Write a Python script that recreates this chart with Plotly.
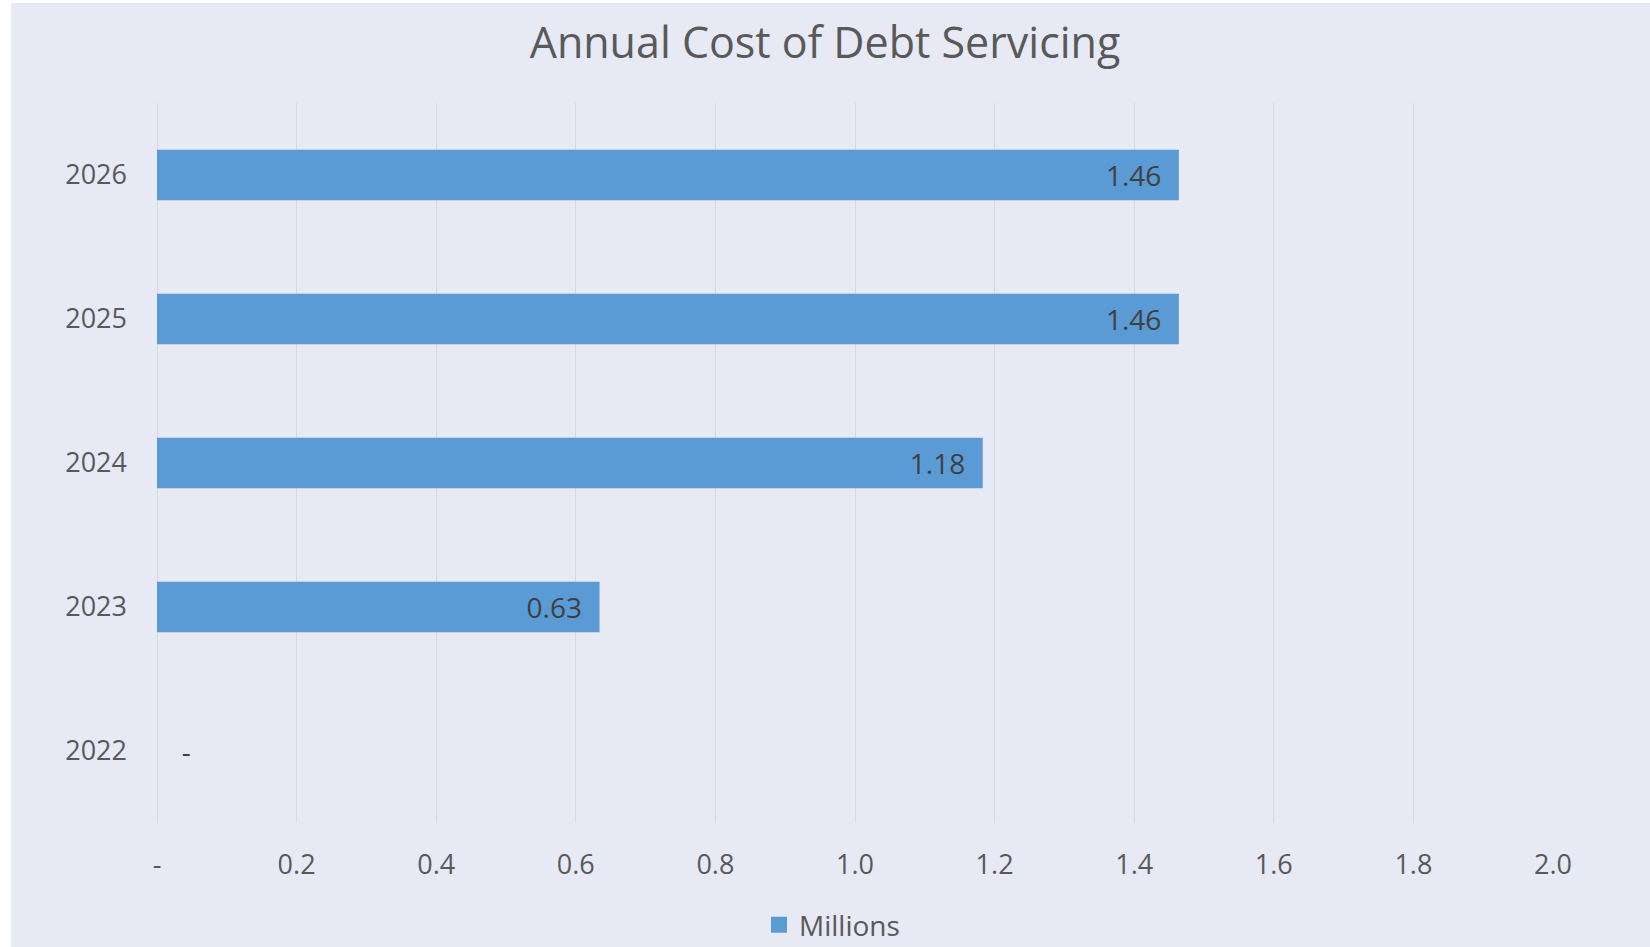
import plotly.graph_objects as go

years = ["2022", "2023", "2024", "2025", "2026"]
values = [0.0, 0.634, 1.183, 1.464, 1.464]
labels = ["\u00a0\u00a0\u00a0-", "0.63\u00a0\u00a0", "1.18\u00a0\u00a0", "1.46\u00a0\u00a0", "1.46\u00a0\u00a0"]
positions = ["outside", "inside", "inside", "inside", "inside"]
tick_vals = [0, 0.2, 0.4, 0.6, 0.8, 1.0, 1.2, 1.4, 1.6, 1.8, 2.0]
tick_text = ["-", "0.2", "0.4", "0.6", "0.8", "1.0", "1.2", "1.4", "1.6", "1.8", "2.0"]
series_name = "Millions"

W, H = 1650, 947
L, R, T, B = 157, 97, 103, 124
PW, PH = W - L - R, H - T - B
BG = "#E7E9F5"
BAR = "#5B9BD5"
FONT = "Open Sans"
TXT = "#595959"
GRID = "#D8DAE2"

fig = go.Figure()
fig.add_trace(go.Bar(
    y=years, x=values, orientation="h", name=series_name, showlegend=False,
    marker=dict(color=BAR, line=dict(width=0)),
    width=0.35,
    text=labels, textposition=positions, insidetextanchor="end",
    textfont=dict(family=FONT, size=28, color="#404040"),
    cliponaxis=False, hoverinfo="skip",
))
# legend entry with a larger square swatch
fig.add_trace(go.Scatter(
    x=[None], y=[None], mode="markers", name=series_name,
    marker=dict(symbol="square", size=17, color=BAR), showlegend=True,
))

fig.update_layout(
    width=W, height=H,
    paper_bgcolor=BG, plot_bgcolor=BG,
    margin=dict(l=L, r=R, t=T, b=B, autoexpand=False),
    font=dict(family=FONT, size=27, color=TXT),
    title=dict(text="Annual Cost of Debt Servicing", x=0.5, xref="container", xanchor="center",
               y=1 - 43 / H, yref="container", yanchor="middle",
               font=dict(family=FONT, size=43, color=TXT)),
    showlegend=True,
    legend=dict(orientation="h", x=(832 - L) / PW, xanchor="center",
                y=-(925 - (T + PH)) / PH, yanchor="middle",
                font=dict(family=FONT, size=28, color=TXT), bgcolor="rgba(0,0,0,0)",
                itemwidth=30),
    xaxis=dict(range=[0, 2.0], tickvals=tick_vals, ticktext=tick_text,
               showgrid=True, gridcolor=GRID, gridwidth=1,
               zeroline=True, zerolinecolor=GRID, zerolinewidth=1,
               showline=False, ticks="", ticklabelstandoff=23,
               tickfont=dict(family=FONT, size=27, color=TXT), fixedrange=True,
               automargin=False),
    yaxis=dict(categoryorder="array", categoryarray=years, showgrid=False, zeroline=False,
               showline=False, ticks="", ticklabelstandoff=29,
               tickfont=dict(family=FONT, size=27, color=TXT), fixedrange=True,
               automargin=False),
    shapes=[
        dict(type="rect", xref="paper", yref="paper",
             x0=-L / PW, x1=-(L - 11) / PW, y0=-2, y1=2,
             fillcolor="white", line=dict(width=0), layer="below"),
        dict(type="rect", xref="paper", yref="paper",
             x0=-1, x1=2, y0=1 + (T - 3) / PH, y1=1 + T / PH,
             fillcolor="white", line=dict(width=0), layer="below"),
    ],
)

fig.write_html("out.html", config={"displayModeBar": False},
               post_script="document.body.style.margin='0';")
